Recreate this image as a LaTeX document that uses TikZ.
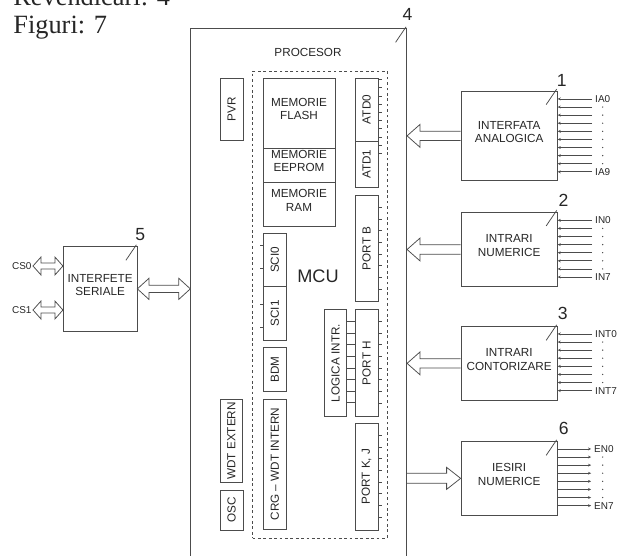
\documentclass[tikz,border=0pt]{standalone}
\usepackage{fontspec}
\setmainfont{Liberation Sans}
\newfontfamily\seriffont{Liberation Serif}
\usetikzlibrary{fit,calc,arrows.meta}
\begin{document}
\begin{tikzpicture}[x=0.03cm,y=-0.03cm,line width=0.65pt]
\tikzstyle{every node}=[text=black!85]
\tikzstyle{blk}=[draw=black!70,inner sep=0,align=center,font=\fontsize{10}{11.5}\selectfont]
\tikzstyle{vtxt}=[rotate=90,inner sep=0,font=\fontsize{10}{11}\selectfont]
\tikzstyle{nr}=[inner sep=0,font=\fontsize{15}{15}\selectfont]
\tikzstyle{sig}=[inner sep=1pt,font=\fontsize{8.5}{9}\selectfont]
\tikzstyle{hollow}=[draw=black!70,line join=miter]
\tikzstyle{wire}=[draw=black!70,-{Stealth[length=2.6pt,width=2.4pt]}]
\tikzstyle{tick}=[draw=black!70]
\useasboundingbox (0,0) rectangle (620,555);
\path (13,5) node[anchor=base west,inner sep=0,font=\seriffont\fontsize{22.5}{22}\selectfont] (rev) {Revendicări: 4};
\path (13,33.3) node[anchor=base west,inner sep=0,font=\seriffont\fontsize{22.5}{22}\selectfont] (fig) {Figuri: 7};
\node[blk,fit={(190.7,28.7)(406.7,600)}] (proc) {};
\path (308,52) node[blk,draw=none] (proct) {PROCESOR};
\node[blk,dash pattern=on 2.3pt off 2.3pt,fit={(252.7,71)(387,538)}] (mcu) {};
\path (318,276) node[font=\fontsize{15.5}{15}\selectfont] (mcut) {MCU};
\node[blk,fit={(263,78)(335,148)}] (flash) {MEMORIE\\FLASH};
\node[blk,fit={(263,148)(335,182)}] (eeprom) {MEMORIE\\EEPROM};
\node[blk,fit={(263,182)(335,226.7)}] (ram) {MEMORIE\\RAM};
\foreach \n/\xa/\ya/\xb/\yb/\t in {pvr/220/78/243/140/PVR, atd0/355/78/378/141/ATD0,
  atd1/355/141/378/187.3/ATD1, portb/355/195/378/301.7/PORT B, sci0/263/233/286.7/286.7/SCI0,
  sci1/263/286.7/286.7/340/SCI1, bdm/263/347.7/286.7/391.7/BDM, crg/263/399/286.7/529/{CRG -- WDT INTERN},
  logic/324.3/309.3/346.7/416.7/LOGICA INTR., porth/355/309.3/378/416.7/PORT H,
  portkj/355/423.3/378/530/{PORT K, J}, wdtx/220/399/242.7/482.7/WDT EXTERN, osc/220/490/243/530/OSC}{
\node[blk,fit={(\xa,\ya)(\xb,\yb)}] (\n) {};
\path (\n) node[vtxt] (\n-t) {\t};
}
\foreach \k in {0,...,9} \draw[tick] ($(atd0.north east)+(0,{2+8.2*\k})$) -- ++(3.5,0);
\foreach \b/\o in {portb/12.7,porth/12.4,portkj/12.4}
  \foreach \k in {0,...,7} \draw[tick] ($(\b.north east)+(0,{\o+11.7*\k})$) -- ++(3.5,0);
\foreach \k in {0,...,7} \draw[tick] ($(logic.north east)+(0,{12.4+11.65*\k})$) -- ($(porth.north west)+(0,{12.4+11.65*\k})$);
\foreach \b/\o in {sci0/13,sci0/36,sci1/18.3,sci1/41.3} \draw[tick] ($(\b.north west)+(0,\o)$) -- ++(-3,0);
\node[blk,fit={(461,91)(557.3,180.7)}] (ana) {INTERFATA\\ANALOGICA};
\node[blk,fit={(461,212.3)(557.3,286.7)}] (num) {INTRARI\\NUMERICE};
\node[blk,fit={(461,326.7)(557.3,400)}] (cnt) {INTRARI\\CONTORIZARE};
\node[blk,fit={(461,441.7)(557.3,515)}] (ies) {IESIRI\\NUMERICE};
\node[blk,fit={(63.3,246.7)(137,331)}] (ser) {INTERFETE\\SERIALE};
\foreach \b/\d/\dx/\dy in {ana/1/4/-10.5,num/2/5.7/-11.6,cnt/3/5/-12.7,proc/4/0.5/-13.7,ser/5/3/-11.7,ies/6/6/-12.4}{
\draw[tick] ($(\b.north east)+(-11.5,14)$) -- ($(\b.north east)+(-1,-1.5)$);
\path ($(\b.north east)+(\dx,\dy)$) node[nr] (\b-nr) {\d};
}
\foreach \b/\n/\m/\o/\sa/\sb in {ana/9/8/8.3/IA0/IA9, num/7/6/8.4/IN0/IN7, cnt/7/6/7.6/INT0/INT7}{
\foreach \k in {0,...,\n} \draw[wire] ($(\b.north east)+(34.4,{\o+8.1*\k})$) -- ($(\b.north east)+(0,{\o+8.1*\k})$);
\foreach \k in {1,...,\m} \fill[black!75] ($(\b.north east)+(45,{\o+8.1*\k})$) circle (0.6pt);
\path ($(\b.north east)+(36,\o)$) node[sig,anchor=west] (\b-s0) {\sa};
\path ($(\b.north east)+(36,{\o+8.1*\n})$) node[sig,anchor=west] (\b-s1) {\sb};
\coordinate (\b-tip) at (\b.west -| proc.east);
\draw[hollow] ($(\b.west)+(0,-4.7)$) -- ($(\b-tip)+(13,-4.7)$) -- ($(\b-tip)+(13,-11.5)$) -- (\b-tip)
  -- ($(\b-tip)+(13,11.5)$) -- ($(\b-tip)+(13,4.7)$) -- ($(\b.west)+(0,4.7)$);
}
\foreach \k in {0,...,7} \draw[wire] ($(ies.north east)+(0,{7.6+8.1*\k})$) -- ++(33.4,0);
\foreach \k in {1,...,6} \fill[black!75] ($(ies.north east)+(45,{7.6+8.1*\k})$) circle (0.6pt);
\path ($(ies.north east)+(35,7.6)$) node[sig,anchor=west] (ies-s0) {EN0};
\path ($(ies.north east)+(35,{7.6+8.1*7})$) node[sig,anchor=west] (ies-s1) {EN7};
\coordinate (ies-tail) at (ies.west -| proc.east);
\draw[hollow] ($(ies-tail)+(0,-5)$) -- ($(ies.west)+(-14,-5)$) -- ($(ies.west)+(-14,-11)$) -- (ies.west)
  -- ($(ies.west)+(-14,11)$) -- ($(ies.west)+(-14,5)$) -- ($(ies-tail)+(0,5)$);
\path (33,266) node[sig,anchor=east] (cs0) {CS0};
\path (33,310) node[sig,anchor=east] (cs1) {CS1};
\coordinate (cs0-e) at (ser.west |- cs0.east);
\coordinate (cs1-e) at (ser.west |- cs1.east);
\coordinate (bus-e) at (proc.west |- ser.east);
\foreach \a/\b/\h/\H/\s in {cs0.east/cs0-e/8/9/3, cs1.east/cs1-e/8/9/3, ser.east/bus-e/11.5/10.5/3.7}{
\draw[hollow] (\a) -- ($(\a)+(\h,-\H)$) -- ($(\a)+(\h,-\s)$) -- ($(\b)+(-\h,-\s)$) -- ($(\b)+(-\h,-\H)$) -- (\b)
  -- ($(\b)+(-\h,\H)$) -- ($(\b)+(-\h,\s)$) -- ($(\a)+(\h,\s)$) -- ($(\a)+(\h,\H)$) -- cycle;
}
\end{tikzpicture}
\end{document}
